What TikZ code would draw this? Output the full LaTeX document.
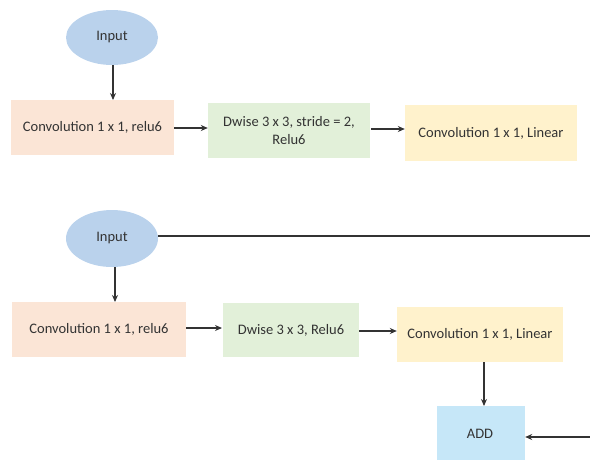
\documentclass[tikz,border=0pt]{standalone}
\usepackage{fontspec}
\setmainfont{Carlito}
\usetikzlibrary{shapes.geometric,arrows.meta}
\definecolor{inblue}{HTML}{BAD2EC}
\definecolor{convpeach}{HTML}{FBE5D6}
\definecolor{dwgreen}{HTML}{E2F0D9}
\definecolor{linyellow}{HTML}{FFF2CC}
\definecolor{addblue}{HTML}{C6E7F8}
\definecolor{ink}{HTML}{333333}
\tikzset{
  txt/.style={font=\fontsize{14.5}{18}\selectfont, text=ink, align=center, inner sep=0pt},
  inputnode/.style={txt, ellipse, fill=inblue, draw=none},
  block/.style={txt, rectangle, draw=none},
  conn/.style={draw=ink, line width=1.1pt, -{Stealth[length=7pt,width=6pt]}},
  plain/.style={draw=ink, line width=1.1pt}
}
\begin{document}
\begin{tikzpicture}[x=1pt,y=-1pt]
\useasboundingbox (0,0) rectangle (590,459);

% first row: strided block
\node[inputnode, minimum width=92pt, minimum height=55pt] (in1) at (112,37.5) {Input};
\node[block, fill=convpeach, minimum width=163pt, minimum height=55pt] (c1) at (92.5,127.5) {Convolution 1 x 1, relu6};
\node[block, fill=dwgreen, minimum width=162pt, minimum height=55pt] (d1) at (289,130.5) {Dwise 3 x 3, stride = 2,\\Relu6};
\node[block, fill=linyellow, minimum width=172pt, minimum height=56pt] (l1) at (491,133) {Convolution 1 x 1, Linear};

\draw[conn] (in1.south -| 113,0) -- (113,100);
\draw[conn] (c1.east |- 0,128) -- (d1.west |- 0,128);
\draw[conn] (371,129) -- (l1.west |- 0,129);

% second row: residual block
\node[inputnode, minimum width=92pt, minimum height=57pt] (in2) at (112,238.5) {Input};
\node[block, fill=convpeach, minimum width=174pt, minimum height=55pt] (c2) at (99,329.5) {Convolution 1 x 1, relu6};
\node[block, fill=dwgreen, minimum width=136pt, minimum height=54pt] (d2) at (291,330) {Dwise 3 x 3, Relu6};
\node[block, fill=linyellow, minimum width=166pt, minimum height=55pt] (l2) at (480,334.5) {Convolution 1 x 1, Linear};
\node[block, fill=addblue, minimum width=88pt, minimum height=60pt] (add) at (481,436) {};
\node[txt] (addlbl) at (480,434) {ADD};

\coordinate (skipout) at (590,236);
\coordinate (skipin) at (590,437);

\draw[plain] (in2.east |- 0,236) -- (skipout);
\draw[conn] (in2.south -| 115,0) -- (115,302);
\draw[conn] (c2.east |- 0,328) -- (222,328);
\draw[conn] (d2.east |- 0,331) -- (l2.west |- 0,331);
\draw[conn] (l2.south -| 484,0) -- (484,406);
\draw[conn] (skipin) -- (add.east |- skipin);
\end{tikzpicture}
\end{document}
